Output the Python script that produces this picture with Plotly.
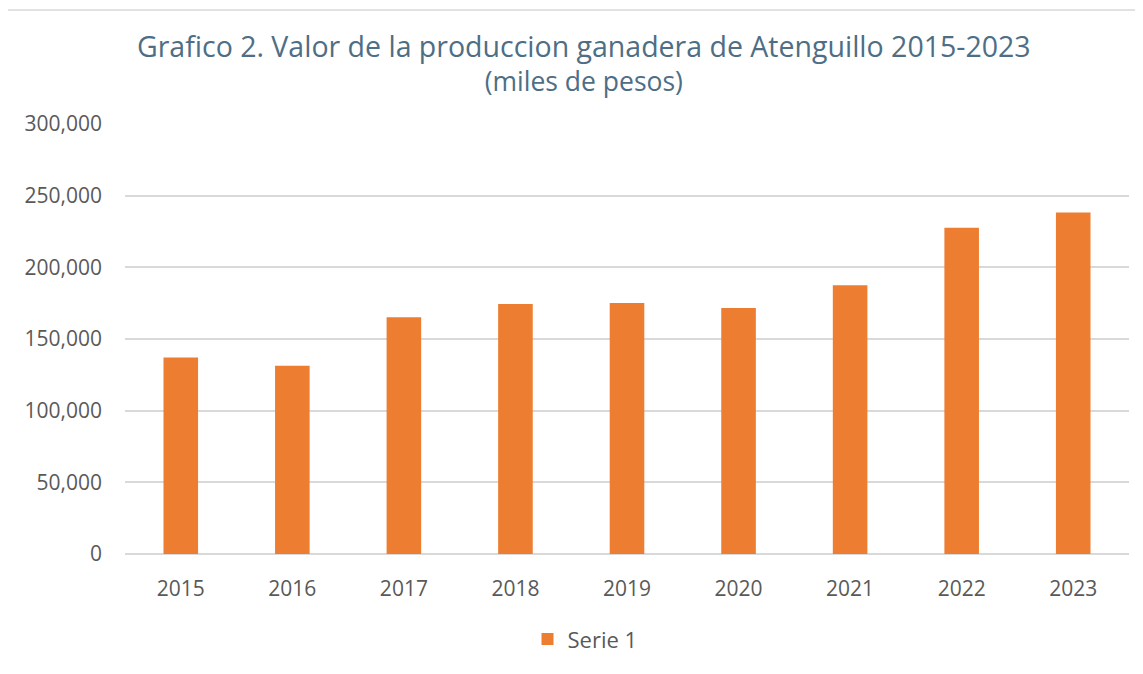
import plotly.graph_objects as go

years = ["2015", "2016", "2017", "2018", "2019", "2020", "2021", "2022", "2023"]
valores = [137100, 131300, 165200, 174500, 175200, 171600, 187500, 227600, 238200]
serie_nombre = "Serie 1"
titulo = "Grafico 2. Valor de la produccion ganadera de Atenguillo 2015-2023"
subtitulo = "(miles de pesos)"

# page has an 8px body margin
OFF = 8
W, H = 1127, 658
L, T = 125 - OFF, 124 - OFF
pw, ph = 1004, 434
R, B = W - L - pw, H - T - ph

def px(sx):
    return (sx - OFF - L) / pw

def py(sy):
    return (T + ph - (sy - OFF)) / ph

fig = go.Figure()
fig.add_trace(go.Bar(
    x=years, y=valores, name=serie_nombre,
    marker=dict(color="#ED7D31", line=dict(width=0)),
    showlegend=True,
))

fig.update_layout(
    width=W, height=H,
    margin=dict(l=L, r=R, t=T, b=B),
    paper_bgcolor="white", plot_bgcolor="white",
    bargap=0.69,
    font=dict(family="Open Sans", color="#595959", size=21),
    showlegend=True,
    legend=dict(orientation="h", x=px(585), xanchor="center", y=py(644), yanchor="middle",
                font=dict(size=22, color="#595959"), itemwidth=30),
    xaxis=dict(showgrid=False, showline=False, ticks="", tickfont=dict(size=21, color="#595959"),
               ticklabelstandoff=20),
    yaxis=dict(range=[0, 300000], dtick=50000, tickformat=",d", showgrid=True,
               gridcolor="#D9D9D9", gridwidth=1.5, zeroline=True, zerolinecolor="#D9D9D9",
               zerolinewidth=1.5, showline=False, ticks="", tickfont=dict(size=21, color="#595959"),
               ticklabelstandoff=22),
)

texto_titulo = ("<span style='font-size:28.5px'>" + titulo + "</span><br>" + subtitulo)
fig.add_annotation(text=texto_titulo, xref="paper", yref="paper", x=px(584), y=py(62),
                   xanchor="center", yanchor="middle", showarrow=False, align="center",
                   font=dict(family="Open Sans", size=26.5, color="#4E6E85", weight=500))

fig.add_shape(type="rect", xref="paper", yref="paper",
              x0=px(7), x1=px(1160), y0=py(690), y1=py(9),
              line=dict(color="#D9D9D9", width=1.5), fillcolor="rgba(0,0,0,0)", layer="below")

fig.write_html("out.html")
